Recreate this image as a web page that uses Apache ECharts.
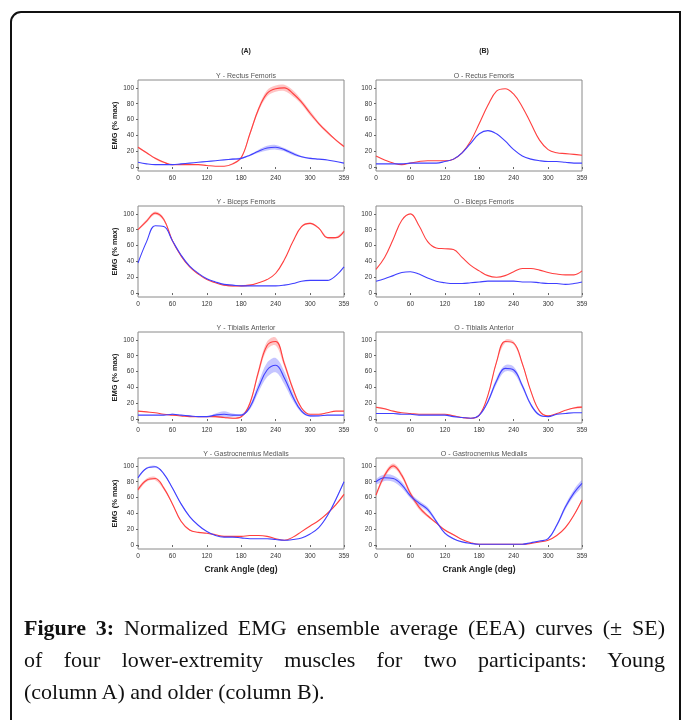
<!DOCTYPE html>
<html>
<head>
<meta charset="utf-8">
<script src="https://cdn.jsdelivr.net/npm/echarts@6/dist/echarts.min.js"></script>
<style>
	html, body { margin: 0; padding: 0; background: #fff; }
	#chart { position: absolute; left: 0; top: 0; width: 683px; height: 720px; }
	#caption {
		position: absolute; left: 24px; top: 612px; width: 641px;
		font-family: 'Liberation Serif', 'DejaVu Serif', serif; font-size: 22px;
		line-height: 32px; color: #111;
	}
	#caption div { white-space: nowrap; text-align: justify; text-align-last: justify; }
	#caption div.last { text-align-last: left; }
	#caption b { font-weight: bold; }
</style>
</head>
<body>
<div id="chart"></div>
<div id="caption">
	<div><b>Figure 3:</b> Normalized EMG ensemble average (EEA) curves (± SE)</div>
	<div>of four lower-extremity muscles for two participants: Young</div>
	<div class="last">(column A) and older (column B).</div>
</div>
<script>
// crank angle samples shared by every curve
const angles = [0,15,30,45,60,75,90,105,120,135,150,165,180,195,210,225,240,255,270,285,300,315,330,345,359];
const angleTicks = [0,60,120,180,240,300,359];
const emgTicks = [0,20,40,60,80,100];
const columnLabels = ['(A)', '(B)'];
const panelTitles = [
	'Y - Rectus Femoris', 'O - Rectus Femoris',
	'Y - Biceps Femoris', 'O - Biceps Femoris',
	'Y - Tibialis Anterior', 'O - Tibialis Anterior',
	'Y - Gastrocnemius Medialis', 'O - Gastrocnemius Medialis'
];

// rectus femoris
const yRfRed    = [25,18,11,6,3,3,3,3,2,1,1,4,12,42,73,93,99,100,93,82,68,55,44,34,26];
const yRfRedSe  = [1,1,1,1,0,0,0,0,0,0,0,1,1,2,3,4,4,4,4,3,3,2,2,1,1];
const yRfBlue   = [6,4,3,3,3,4,5,6,7,8,9,10,11,15,20,24,25,22,17,13,11,10,9,7,5];
const yRfBlueSe = [0,0,0,0,0,0,0,0,0,0,0,1,1,1,2,3,3,2,2,1,1,0,0,0,0];
const oRfRed    = [14,9,5,3,5,7,8,8,8,10,18,33,55,78,96,99,92,76,55,34,22,18,17,16,15];
const oRfBlue   = [4,4,4,4,5,5,5,5,7,10,18,30,42,46,42,33,22,14,10,8,7,7,6,5,5];

// biceps femoris
const yBfRed    = [80,91,101,93,66,47,33,24,17,13,10,9,9,10,13,17,25,42,65,84,88,82,70,70,78];
const yBfRedSe  = [1,2,2,2,1,1,0,0,0,0,1,1,1,1,0,0,0,0,0,1,1,1,1,1,1];
const yBfBlue   = [38,65,85,84,66,48,34,25,18,14,11,10,9,9,9,9,9,10,12,15,16,16,16,22,33];
const oBfRed    = [30,45,68,92,100,85,65,57,56,55,45,35,28,22,20,22,27,31,31,29,26,24,23,23,28];
const oBfBlue   = [15,18,22,26,27,24,19,15,13,12,12,13,14,15,15,15,15,14,14,13,12,12,11,12,14];

// tibialis anterior
const yTaRed    = [10,9,8,6,5,4,3,3,3,3,2,1,3,20,60,93,98,70,38,14,6,6,8,10,10];
const yTaRedSe  = [0,0,0,0,0,0,0,0,0,1,1,1,1,2,4,5,5,4,3,1,0,0,0,0,0];
const yTaBlue   = [5,5,5,5,6,5,4,3,3,5,6,5,5,15,40,62,68,52,28,10,4,4,5,5,5];
const yTaBlueSe = [0,0,0,0,1,0,0,0,0,2,4,2,1,3,6,9,9,8,5,2,1,0,0,0,0];
const oTaRed    = [15,13,10,8,7,6,6,6,6,4,2,1,5,30,72,98,96,70,35,10,4,7,11,14,15];
const oTaRedSe  = [1,1,0,0,0,0,0,0,0,0,0,0,0,1,2,2,2,2,1,1,0,0,0,1,1];
const oTaBlue   = [7,7,7,6,6,5,5,5,5,3,2,1,5,22,48,64,62,42,18,5,3,6,7,8,8];
const oTaBlueSe = [0,0,0,0,0,0,0,0,0,0,0,0,1,2,4,4,4,3,2,1,0,0,0,0,0];

// gastrocnemius medialis
const yGmRed    = [70,82,84,72,52,30,19,16,15,13,11,11,11,12,12,11,8,6,10,17,24,31,40,51,64];
const yGmRedSe  = [2,2,2,2,1,1,1,0,0,0,0,0,0,0,0,0,0,0,0,0,0,0,1,1,1];
const yGmBlue   = [85,97,99,90,72,52,36,25,17,12,10,10,9,8,8,8,7,6,7,9,14,22,37,58,80];
const yGmBlueSe = [1,1,1,1,1,1,1,0,0,0,0,0,0,0,0,0,0,0,0,0,0,0,1,1,1];
const oGmRed    = [63,88,100,88,65,48,37,28,19,13,7,3,1,1,1,1,1,1,2,4,6,12,22,38,57];
const oGmRedSe  = [2,3,3,3,3,3,2,1,1,1,0,0,0,0,0,0,0,0,0,0,0,0,1,1,1];
const oGmBlue   = [80,85,84,76,62,53,45,30,15,8,4,2,1,1,1,1,1,1,3,5,8,25,48,66,78];
const oGmBlueSe = [3,4,4,4,3,3,3,2,1,1,0,0,0,0,0,0,0,0,0,0,1,2,3,4,4];

const panels = [
	[yRfRed, yRfRedSe, yRfBlue, yRfBlueSe],
	[oRfRed, null, oRfBlue, null],
	[yBfRed, yBfRedSe, yBfBlue, null],
	[oBfRed, null, oBfBlue, null],
	[yTaRed, yTaRedSe, yTaBlue, yTaBlueSe],
	[oTaRed, oTaRedSe, oTaBlue, oTaBlueSe],
	[yGmRed, yGmRedSe, yGmBlue, yGmBlueSe],
	[oGmRed, oGmRedSe, oGmBlue, oGmBlueSe],
];

const RED = '#ff3f3f', BLUE = '#3f3fff';
const RED_BAND = 'rgba(255,110,110,0.4)', BLUE_BAND = 'rgba(110,110,255,0.4)';
const labelFont = 'Liberation Sans, Arial, sans-serif';

const grids = [], xAxes = [], yAxes = [], series = [], titles = [];

function addCurve(i, mean, se, color, band) {
	if (se) {
		// +/- SE band drawn as a smoothed polygon through the axis scales
		series.push({
			type: 'custom', xAxisIndex: i, yAxisIndex: i, silent: true, clip: true, z: 2,
			data: [[angles[0], mean[0]]],
			renderItem: (params, api) => {
				const upper = mean.map((v, k) => api.coord([angles[k], v + se[k]]));
				const lower = mean.map((v, k) => api.coord([angles[k], v - se[k]])).reverse();
				return {
					type: 'polygon',
					shape: {points: upper.concat(lower), smooth: 0.35},
					style: {fill: band}
				};
			}
		});
	}
	series.push({
		type: 'line', xAxisIndex: i, yAxisIndex: i, smooth: 0.4, symbol: 'none',
		lineStyle: {color: color, width: 1.1}, z: 5,
		data: mean.map((v, k) => [angles[k], v])
	});
}

panels.forEach((p, i) => {
	const col = i % 2, row = Math.floor(i / 2);
	const left = col ? 376 : 138;
	const top = 80 + row * 126;
	grids.push({left: left, top: top, width: 206, height: 91, show: true,
		borderColor: '#8a8a8a', borderWidth: 1, backgroundColor: 'transparent'});
	xAxes.push({
		type: 'value', gridIndex: i, min: 0, max: 359,
		axisLine: {show: false}, splitLine: {show: false},
		axisTick: {show: true, length: 2, customValues: angleTicks, lineStyle: {color: '#666'}},
		axisLabel: {customValues: angleTicks, fontSize: 6.5, color: '#333', margin: 4, fontFamily: labelFont},
		name: row === 3 ? 'Crank Angle (deg)' : '',
		nameLocation: 'middle', nameGap: 16,
		nameTextStyle: {fontSize: 8.5, fontWeight: 'bold', color: '#222', fontFamily: labelFont}
	});
	yAxes.push({
		type: 'value', gridIndex: i, min: -5, max: 110,
		axisLine: {show: false}, splitLine: {show: false},
		axisTick: {show: true, length: 2, customValues: emgTicks, lineStyle: {color: '#666'}},
		axisLabel: {customValues: emgTicks, fontSize: 6.5, color: '#333', margin: 4, fontFamily: labelFont},
		name: col === 0 ? 'EMG (% max)' : '',
		nameLocation: 'middle', nameRotate: 90, nameGap: 17,
		nameTextStyle: {fontSize: 7.5, fontWeight: 'bold', color: '#222', fontFamily: labelFont}
	});
	titles.push({
		text: panelTitles[i], left: left + 103, top: top - 12, textAlign: 'center',
		textStyle: {fontSize: 7, fontWeight: 'normal', color: '#555', fontFamily: labelFont}
	});
	addCurve(i, p[0], p[1], RED, RED_BAND);
	addCurve(i, p[2], p[3], BLUE, BLUE_BAND);
});

columnLabels.forEach((t, c) => {
	titles.push({
		text: t, left: c ? 479 : 241, top: 43, textAlign: 'center',
		textStyle: {fontSize: 7, fontWeight: 'bold', color: '#222', fontFamily: labelFont}
	});
});

const chart = echarts.init(document.getElementById('chart'), null, {renderer: 'canvas'});
chart.setOption({
	animation: false,
	backgroundColor: '#fff',
	title: titles,
	grid: grids,
	xAxis: xAxes,
	yAxis: yAxes,
	series: series,
	graphic: [{
		type: 'rect', silent: true,
		shape: {x: 11, y: 12, width: 669, height: 760, r: [10, 0, 0, 0]},
		style: {fill: null, stroke: '#111', lineWidth: 2}
	}]
});
</script>
</body>
</html>
